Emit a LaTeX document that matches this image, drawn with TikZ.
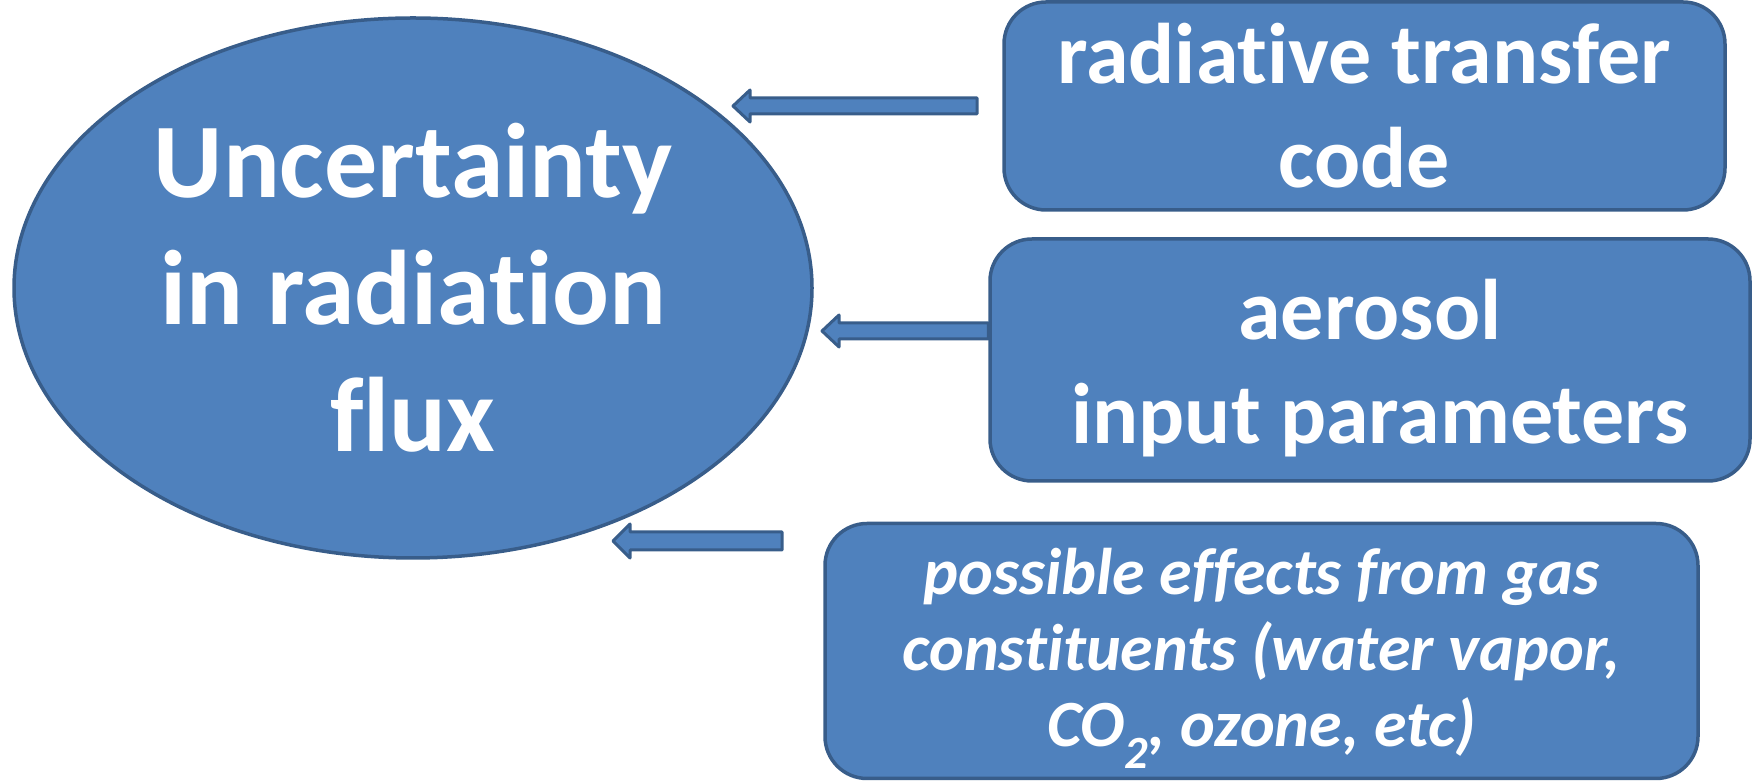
\documentclass[tikz,border=0pt]{standalone}
\usepackage{fontspec}
\setmainfont{Carlito}[Ligatures=NoCommon]
\usetikzlibrary{shapes.geometric,calc}
\definecolor{fillblue}{HTML}{4F81BD}
\definecolor{edgeblue}{HTML}{385D8A}
\tikzset{
  blob/.style={draw=edgeblue, fill=fillblue, line width=3.5pt, text=white, align=center, inner sep=0pt},
  boxnode/.style={blob, rectangle, rounded corners=42pt},
  txt/.style={text=white, align=center, inner sep=0pt},
  barrow/.style={draw=edgeblue, fill=fillblue, line width=3pt, line join=round},
}
\begin{document}
\begin{tikzpicture}[x=1pt,y=1pt]
\useasboundingbox (0,0) rectangle (1754,781);
\node[blob, ellipse, minimum width=798pt, minimum height=540pt,
  font=\fontsize{106}{127}\selectfont\bfseries] (unc) at (413,493)
  {Uncertainty\\in radiation\\flux};
\node[boxnode, minimum width=721pt, minimum height=208pt,
  font=\fontsize{86}{104}\selectfont\bfseries] (rtc) at (1364.5,675)
  {radiative transfer\\code};
\node[boxnode, minimum width=760pt, minimum height=242pt] (aer) at (1370,421) {};
\node[txt, font=\fontsize{86}{104}\selectfont\bfseries] (aertext) at ([yshift=-8pt]aer.center)
  {aerosol\\\hspace*{0.23em}input parameters};
\node[boxnode, minimum width=873pt, minimum height=255pt] (gas) at (1261.5,130) {};
\node[txt, font=\fontsize{66}{76}\selectfont\bfseries\itshape] (gastext) at ([yshift=-7pt]gas.center)
  {possible effects from gas\\constituents (water vapor,\\CO\textsubscript{2}, ozone, etc)};
% arrow 1
\coordinate (h1) at (733,675);
\coordinate (t1) at (977,675);
\draw[barrow] ($(t1)+(0,8)$) -- ($(h1)+(17,8)$) -- ($(h1)+(17,16)$) -- (h1) -- ($(h1)+(17,-16)$) -- ($(h1)+(17,-8)$) -- ($(t1)+(0,-8)$) -- cycle;
% arrow 2
\coordinate (h2) at (822,450);
\coordinate (t2) at (aer.west |- h2);
\draw[barrow] ($(t2)+(0,8)$) -- ($(h2)+(17,8)$) -- ($(h2)+(17,16)$) -- (h2) -- ($(h2)+(17,-16)$) -- ($(h2)+(17,-8)$) -- ($(t2)+(0,-8)$) -- cycle;
% arrow 3
\coordinate (h3) at (613,240);
\coordinate (t3) at (782,240);
\draw[barrow] ($(t3)+(0,9)$) -- ($(h3)+(17,9)$) -- ($(h3)+(17,17)$) -- (h3) -- ($(h3)+(17,-17)$) -- ($(h3)+(17,-9)$) -- ($(t3)+(0,-9)$) -- cycle;
\end{tikzpicture}
\end{document}
